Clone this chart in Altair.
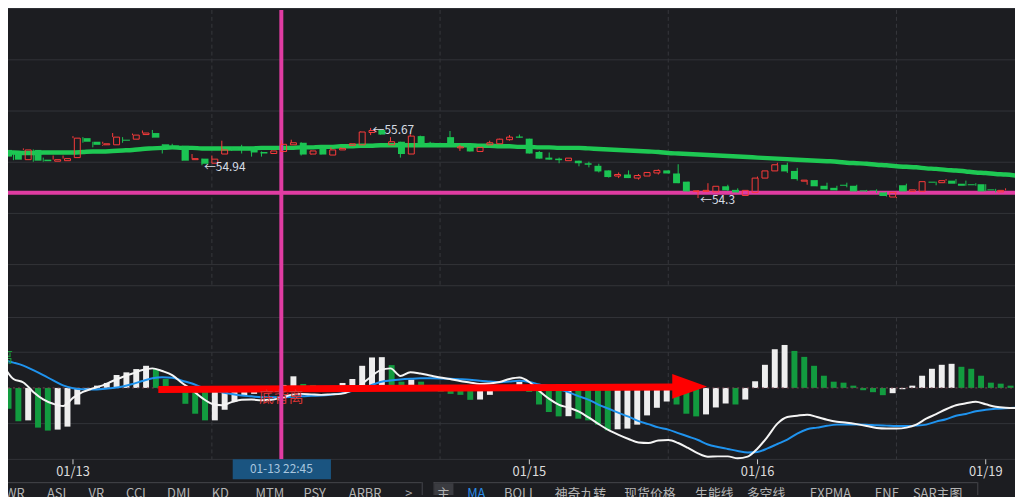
import altair as alt
import pandas as pd

# ------------------------------------------------------------------ data
opens = [55.24, 55.17, 55.05, 55.24, 55.05, 55.02, 55.03, 55.09, 55.47, 55.40,
         55.34, 55.34, 55.44, 55.45, 55.54, 55.57, 55.35, 55.33, 55.32, 55.05,
         55.07, 54.98, 55.16, 55.27, 55.27, 55.29, 55.20, 55.17, 55.21, 55.34,
         55.38, 55.16, 55.27, 55.14, 55.24, 55.33, 55.34, 55.58, 55.63, 55.34,
         55.40, 55.16, 55.51, 55.38, 55.35, 55.49, 55.28, 55.34, 55.21, 55.34,
         55.36, 55.44, 55.50, 55.46, 55.20, 55.09, 55.07, 55.03, 55.03, 54.98,
         54.93, 54.84, 54.73, 54.76, 54.69, 54.73, 54.79, 54.84, 54.78, 54.62,
         54.43, 54.43, 54.42, 54.53, 54.46, 54.35, 54.41, 54.69, 54.83, 54.95,
         54.83, 54.63, 54.65, 54.54, 54.50, 54.56, 54.54, 54.45, 54.45, 54.41,
         54.32, 54.55, 54.43, 54.43, 54.62, 54.60, 54.64, 54.58, 54.57, 54.57,
         54.47, 54.42, 54.44]
highs = [55.26, 55.18, 55.27, 55.25, 55.09, 55.13, 55.13, 55.51, 55.49, 55.40,
         55.40, 55.57, 55.49, 55.56, 55.62, 55.63, 55.35, 55.36, 55.32, 55.16,
         55.07, 55.13, 55.42, 55.29, 55.34, 55.29, 55.21, 55.23, 55.43, 55.44,
         55.39, 55.23, 55.27, 55.29, 55.29, 55.37, 55.60, 55.67, 55.64, 55.49,
         55.40, 55.55, 55.52, 55.40, 55.36, 55.61, 55.34, 55.34, 55.29, 55.42,
         55.46, 55.53, 55.54, 55.46, 55.22, 55.19, 55.09, 55.08, 55.03, 55.01,
         54.97, 54.84, 54.80, 54.84, 54.77, 54.80, 54.86, 54.84, 54.96, 54.62,
         54.45, 54.59, 54.53, 54.56, 54.49, 54.45, 54.72, 54.83, 54.99, 54.99,
         54.89, 54.65, 54.65, 54.60, 54.54, 54.60, 54.56, 54.46, 54.47, 54.42,
         54.42, 54.58, 54.47, 54.62, 54.62, 54.67, 54.67, 54.64, 54.59, 54.57,
         54.48, 54.49, 54.45]
lows = [55.09, 55.04, 55.05, 55.01, 55.01, 55.02, 55.03, 55.09, 55.38, 55.29,
        55.32, 55.34, 55.38, 55.45, 55.54, 55.48, 55.17, 55.29, 55.03, 55.05,
        54.94, 54.98, 55.16, 55.22, 55.17, 55.11, 55.11, 55.17, 55.21, 55.34,
        55.13, 55.15, 55.15, 55.14, 55.24, 55.33, 55.34, 55.53, 55.54, 55.34,
        55.09, 55.16, 55.34, 55.34, 55.33, 55.34, 55.22, 55.21, 55.21, 55.34,
        55.36, 55.42, 55.48, 55.17, 55.07, 55.05, 54.98, 55.03, 54.92, 54.90,
        54.80, 54.70, 54.69, 54.69, 54.66, 54.73, 54.76, 54.78, 54.59, 54.43,
        54.30, 54.42, 54.42, 54.44, 54.41, 54.35, 54.41, 54.69, 54.83, 54.79,
        54.64, 54.56, 54.53, 54.47, 54.45, 54.51, 54.43, 54.42, 54.40, 54.33,
        54.30, 54.43, 54.43, 54.43, 54.55, 54.59, 54.58, 54.54, 54.54, 54.43,
        54.41, 54.42, 54.43]
closes = [55.11, 55.05, 55.24, 55.03, 55.02, 55.05, 55.07, 55.47, 55.40, 55.34,
          55.36, 55.49, 55.42, 55.53, 55.57, 55.48, 55.29, 55.32, 55.03, 55.07,
          54.97, 55.06, 55.24, 55.25, 55.25, 55.19, 55.17, 55.22, 55.35, 55.38,
          55.15, 55.22, 55.15, 55.24, 55.27, 55.36, 55.59, 55.62, 55.54, 55.40,
          55.16, 55.51, 55.34, 55.34, 55.34, 55.34, 55.30, 55.21, 55.29, 55.38,
          55.45, 55.49, 55.48, 55.17, 55.07, 55.05, 55.04, 55.08, 54.98, 54.95,
          54.82, 54.71, 54.76, 54.69, 54.74, 54.80, 54.84, 54.78, 54.59, 54.43,
          54.44, 54.45, 54.53, 54.45, 54.41, 54.45, 54.69, 54.83, 54.95, 54.82,
          54.67, 54.65, 54.53, 54.47, 54.45, 54.54, 54.43, 54.43, 54.44, 54.34,
          54.41, 54.43, 54.46, 54.62, 54.60, 54.64, 54.58, 54.54, 54.55, 54.43,
          54.45, 54.45, 54.44]
ma_values = [55.19, 55.19, 55.18, 55.18, 55.19, 55.19, 55.19, 55.19, 55.20, 55.21,
             55.21, 55.22, 55.23, 55.24, 55.26, 55.27, 55.28, 55.29, 55.28, 55.28,
             55.27, 55.27, 55.27, 55.27, 55.27, 55.27, 55.28, 55.28, 55.28, 55.28,
             55.29, 55.29, 55.30, 55.30, 55.31, 55.31, 55.32, 55.32, 55.33, 55.33,
             55.33, 55.33, 55.33, 55.33, 55.33, 55.33, 55.33, 55.33, 55.32, 55.32,
             55.31, 55.31, 55.30, 55.30, 55.29, 55.29, 55.28, 55.28, 55.28, 55.27,
             55.26, 55.25, 55.24, 55.23, 55.22, 55.21, 55.20, 55.18, 55.17, 55.16,
             55.15, 55.14, 55.13, 55.12, 55.11, 55.10, 55.09, 55.08, 55.07, 55.06,
             55.05, 55.04, 55.03, 55.02, 55.01, 54.99, 54.98, 54.97, 54.95, 54.94,
             54.92, 54.91, 54.90, 54.88, 54.87, 54.85, 54.84, 54.82, 54.80, 54.79,
             54.77, 54.76, 54.74]
dif_values = [0.0223, 0.0090, 0.0055, -0.0040, -0.0115, -0.0160, -0.0183, -0.0100, -0.0040, -0.0005,
              0.0025, 0.0070, 0.0110, 0.0145, 0.0180, 0.0197, 0.0170, 0.0130, 0.0050, -0.0020,
              -0.0100, -0.0160, -0.0175, -0.0143, -0.0120, -0.0117, -0.0125, -0.0120, -0.0100, -0.0070,
              -0.0060, -0.0065, -0.0070, -0.0065, -0.0060, -0.0030, 0.0030, 0.0110, 0.0180, 0.0197,
              0.0120, 0.0157, 0.0145, 0.0125, 0.0105, 0.0090, 0.0070, 0.0055, 0.0040, 0.0045,
              0.0060, 0.0090, 0.0105, 0.0060, -0.0030, -0.0110, -0.0170, -0.0200, -0.0240, -0.0300,
              -0.0365, -0.0425, -0.0473, -0.0515, -0.0550, -0.0555, -0.0530, -0.0525, -0.0555, -0.0605,
              -0.0660, -0.0693, -0.0690, -0.0690, -0.0710, -0.0693, -0.0610, -0.0493, -0.0360, -0.0293,
              -0.0280, -0.0270, -0.0293, -0.0320, -0.0340, -0.0350, -0.0365, -0.0383, -0.0405, -0.0410,
              -0.0410, -0.0400, -0.0370, -0.0310, -0.0265, -0.0215, -0.0175, -0.0155, -0.0140, -0.0165,
              -0.0190, -0.0200, -0.0203]
dea_values = [0.0280, 0.0255, 0.0225, 0.0180, 0.0130, 0.0075, 0.0025, -0.0003, -0.0014, -0.0015,
              -0.0010, 0.0000, 0.0015, 0.0040, 0.0070, 0.0097, 0.0107, 0.0103, 0.0073, 0.0045,
              0.0007, -0.0020, -0.0043, -0.0062, -0.0077, -0.0085, -0.0093, -0.0093, -0.0093, -0.0090,
              -0.0085, -0.0080, -0.0077, -0.0068, -0.0055, -0.0033, -0.0005, 0.0025, 0.0060, 0.0075,
              0.0085, 0.0092, 0.0097, 0.0097, 0.0096, 0.0093, 0.0088, 0.0082, 0.0072, 0.0065,
              0.0058, 0.0065, 0.0072, 0.0060, 0.0035, 0.0015, -0.0015, -0.0045, -0.0085, -0.0120,
              -0.0170, -0.0210, -0.0252, -0.0290, -0.0335, -0.0365, -0.0398, -0.0420, -0.0455, -0.0490,
              -0.0525, -0.0570, -0.0595, -0.0615, -0.0635, -0.0650, -0.0645, -0.0610, -0.0565, -0.0520,
              -0.0460, -0.0417, -0.0400, -0.0382, -0.0370, -0.0368, -0.0368, -0.0370, -0.0377, -0.0380,
              -0.0383, -0.0383, -0.0380, -0.0370, -0.0340, -0.0315, -0.0280, -0.0263, -0.0235, -0.0220,
              -0.0210, -0.0205, -0.0200]
macd_hist = [-0.0210, -0.0337, -0.0327, -0.0400, -0.0430, -0.0420, -0.0390, -0.0167, -0.0010, 0.0023,
             0.0050, 0.0130, 0.0157, 0.0190, 0.0223, 0.0190, 0.0090, -0.0030, -0.0160, -0.0260,
             -0.0327, -0.0327, -0.0220, -0.0137, -0.0077, -0.0060, -0.0040, -0.0010, 0.0030, 0.0117,
             0.0040, 0.0030, 0.0010, 0.0020, 0.0050, 0.0090, 0.0223, 0.0307, 0.0310, 0.0230,
             0.0063, 0.0083, 0.0063, 0.0020, -0.0037, -0.0060, -0.0070, -0.0120, -0.0117, -0.0070,
             -0.0030, 0.0010, 0.0060, -0.0040, -0.0167, -0.0243, -0.0287, -0.0285, -0.0310, -0.0327,
             -0.0370, -0.0427, -0.0417, -0.0410, -0.0370, -0.0277, -0.0200, -0.0137, -0.0167, -0.0260,
             -0.0287, -0.0267, -0.0197, -0.0157, -0.0167, -0.0117, 0.0067, 0.0233, 0.0390, 0.0433,
             0.0373, 0.0313, 0.0223, 0.0123, 0.0063, 0.0053, 0.0023, -0.0023, -0.0043, -0.0073,
             -0.0053, -0.0013, 0.0023, 0.0123, 0.0193, 0.0233, 0.0243, 0.0213, 0.0193, 0.0123,
             0.0053, 0.0043, 0.0023]
# w = histogram rising (white bar), g = falling (green bar)
macd_trend = list("ggwggwwwww" "wwwwwggggg" "gwwwwwwwww" "gggwwwwwwg" "gwggggggww"
                  "wwwggggwgg" "ggwwwwwwgg" "gwwwgwwwww" "gggggggggg" "wwwwwwwggg" "ggg")

date_ticks = [7, 53, 76, 99]
date_labels = ["01/13", "01/15", "01/16", "01/19"]
day_grid = [21, 44, 67, 90]
price_grid = [58, 57, 56, 55, 54, 53]
macd_grid = [0.036, -0.036]

hl_index = [37, 20, 70]
hl_price = [55.67, 54.94, 54.30]
hl_text = ["←55.67", "←54.94", "←54.3"]

cross_index = 28
cross_price = 54.405
cross_time = "01-13 22:45"

arrow_from = [15.6, -0.0015]
arrow_to = [67.6, 0.0010]
arrow_head = [69.15, 0.0015]

left_tabs = ["WR", "ASI", "VR", "CCI", "DMI", "KD", "MTM", "PSY", "ARBR", ">"]
left_tab_x = [15, 57, 97, 137, 180, 222, 272, 317, 368, 412]
right_tabs = ["主", "MA", "BOLL", "神奇九转", "现货价格", "生能线", "多空线", "EXPMA", "ENE", "SAR主图"]
right_tab_x = [447, 480, 524, 585, 655, 720, 772, 837, 894, 945]

# ------------------------------------------------------------------ layout / style
M = 8                      # page margin: the chart starts at page (8, 8)
W, H = 1023 - M, 461 - M   # plot area (page x 8..1023, page y 8..461)
BG = "#1c1d21"
GRID = "#333439"
RED = "#fb3b3b"
GREEN = "#1bc453"
MA_GREEN = "#1ec853"
BAR_GREEN = "#129b3f"
BAR_WHITE = "#eeeeee"
BLUE = "#1f93ee"
PINK = "#e03ca2"
FONT = "Noto Sans CJK SC"


def py(v):
    """page pixel (reference coordinates) -> chart pixel"""
    return v - M


xs = alt.Scale(domain=[0.45, 101.95], nice=False, zero=False)
ps = alt.Scale(domain=[49.1957, 57.9748], nice=False, zero=False)
ms = alt.Scale(domain=[-0.072, 0.381], nice=False, zero=False)


def xq(f):
    return alt.X(f, type="quantitative", scale=xs, axis=None)


def yp(f):
    return alt.Y(f, type="quantitative", scale=ps, axis=None)


def ym(f):
    return alt.Y(f, type="quantitative", scale=ms, axis=None)


one = pd.DataFrame({"k": [0]})
n = len(opens)
df = pd.DataFrame({
    "idx": list(range(n)), "open": opens, "high": highs, "low": lows,
    "close": closes, "ma": ma_values, "dif": dif_values, "dea": dea_values,
    "hist": macd_hist, "trend": macd_trend,
})
base = alt.Chart(df)
layers = []

# ---- chrome / grid
for yv in [286, 318, 461]:
    layers.append(alt.Chart(one).mark_rule(color=GRID, strokeWidth=1).encode(
        x=alt.value(0), x2=alt.value(W), y=alt.value(py(yv))))
dg = pd.DataFrame({"d": day_grid})
layers.append(alt.Chart(dg).mark_rule(color="#37383d", strokeDash=[4, 3]).encode(
    x=xq("d"), y=alt.value(0), y2=alt.value(py(286))))
layers.append(alt.Chart(dg).mark_rule(color="#37383d", strokeDash=[4, 3]).encode(
    x=xq("d"), y=alt.value(py(318)), y2=alt.value(py(461))))
layers.append(alt.Chart(pd.DataFrame({"p": price_grid})).mark_rule(color=GRID).encode(
    y=yp("p"), x=alt.value(0), x2=alt.value(W)))
layers.append(alt.Chart(pd.DataFrame({"m": macd_grid})).mark_rule(color=GRID).encode(
    y=ym("m"), x=alt.value(0), x2=alt.value(W)))

# ---- MACD
layers.append(base.transform_filter("datum.trend == 'w'").mark_bar(size=6, color=BAR_WHITE).encode(
    x=xq("idx"), y=ym("hist"), y2=alt.Y2Datum(0)))
layers.append(base.transform_filter("datum.trend == 'g'").mark_bar(size=6, color=BAR_GREEN).encode(
    x=xq("idx"), y=ym("hist"), y2=alt.Y2Datum(0)))
layers.append(alt.Chart(pd.DataFrame({"z": [0.0]})).mark_rule(color="#7a4650", strokeDash=[2, 3]).encode(
    y=ym("z"), x=alt.value(0), x2=alt.value(W)))
layers.append(base.mark_line(color=BLUE, strokeWidth=2, interpolate="monotone").encode(
    x=xq("idx"), y=ym("dea")))
layers.append(base.mark_line(color="#f4f4f4", strokeWidth=2, interpolate="monotone").encode(
    x=xq("idx"), y=ym("dif")))

# divergence arrow + labels
arr = pd.DataFrame({"x0": [arrow_from[0]], "y0": [arrow_from[1]],
                    "x1": [arrow_to[0]], "y1": [arrow_to[1]],
                    "hx": [arrow_head[0]], "hy": [arrow_head[1]]})
layers.append(alt.Chart(arr).mark_rule(color="#ff0000", strokeWidth=7).encode(
    x=xq("x0"), x2="x1:Q", y=ym("y0"), y2="y1:Q"))
layers.append(alt.Chart(arr).mark_point(shape="M-1,-0.71L1,0L-1,0.71Z", size=1225, filled=True,
                                        color="#ff0000", opacity=1, strokeWidth=0).encode(
    x=xq("hx"), y=ym("hy")))
div = pd.DataFrame({"x": [28, 0.95], "y": [-0.009, 0.030], "t": ["底背离", "顶背离"],
                    "c": ["b", "t"]})
layers.append(alt.Chart(div).transform_filter("datum.c == 'b'").mark_text(
    font=FONT, fontSize=15, color="#d83434", align="center", baseline="middle").encode(
    x=xq("x"), y=ym("y"), text="t:N"))
layers.append(alt.Chart(div).transform_filter("datum.c == 't'").mark_text(
    font=FONT, fontSize=14, color="#1a9c3e", align="right", baseline="middle").encode(
    x=xq("x"), y=ym("y"), text="t:N"))

# ---- price panel
layers.append(base.mark_line(color=MA_GREEN, strokeWidth=4.5, interpolate="monotone").encode(
    x=xq("idx"), y=yp("ma")))

# crosshair
cr = pd.DataFrame({"ci": [cross_index], "cp": [cross_price], "t": [cross_time]})
layers.append(alt.Chart(cr).mark_rule(color=PINK, strokeWidth=4).encode(
    x=xq("ci"), y=alt.value(0), y2=alt.value(py(461))))
layers.append(alt.Chart(cr).mark_rule(color=PINK, strokeWidth=4).encode(
    y=yp("cp"), x=alt.value(0), x2=alt.value(W)))

up = "datum.close > datum.open"
dn = "datum.close <= datum.open"
layers.append(base.transform_filter(up).mark_rule(color=RED, strokeWidth=1).encode(
    x=xq("idx"), y=yp("high"), y2="close:Q"))
layers.append(base.transform_filter(up).mark_rule(color=RED, strokeWidth=1).encode(
    x=xq("idx"), y=yp("open"), y2="low:Q"))
layers.append(base.transform_filter(dn).mark_rule(color=GREEN, strokeWidth=1).encode(
    x=xq("idx"), y=yp("high"), y2="low:Q"))
layers.append(base.transform_filter(up).mark_bar(size=6, filled=False, color=RED, strokeWidth=1).encode(
    x=xq("idx"), y=yp("open"), y2="close:Q"))
layers.append(base.transform_filter(dn).mark_bar(size=7, color=GREEN).encode(
    x=xq("idx"), y=yp("open"), y2="close:Q"))

hl = pd.DataFrame({"i": hl_index, "p": hl_price, "t": hl_text})
layers.append(alt.Chart(hl).mark_text(font=FONT, fontSize=12, color="#d8dde6", align="left",
                                      baseline="middle", dx=2, dy=2).encode(
    x=xq("i"), y=yp("p"), text="t:N"))

# ---- time axis
dt = pd.DataFrame({"i": date_ticks, "t": date_labels})
layers.append(alt.Chart(dt).mark_rule(color="#d0d0d0").encode(
    x=xq("i"), y=alt.value(py(461)), y2=alt.value(py(466))))
layers.append(alt.Chart(dt).mark_text(font=FONT, fontSize=13, color="#dcdcdc",
                                      baseline="middle").encode(
    x=xq("i"), y=alt.value(py(474)), text="t:N"))
box = pd.DataFrame({"a": [cross_index - 4.9], "b": [cross_index + 5.0]})
layers.append(alt.Chart(box).mark_rect(color="#1a5480").encode(
    x=xq("a"), x2="b:Q", y=alt.value(py(461)), y2=alt.value(py(481))))
layers.append(alt.Chart(cr).mark_text(font=FONT, fontSize=12, color="#a9c6df",
                                      baseline="middle").encode(
    x=xq("ci"), y=alt.value(py(471)), text="t:N"))

# ---- bottom tab bar
for x0, x1 in [(0, 425), (437, 985)]:
    layers.append(alt.Chart(one).mark_rule(color="#46474c").encode(
        x=alt.value(max(py(x0), 0)), x2=alt.value(py(x1)), y=alt.value(py(484.5))))
for xv in [425.5, 437.5, 985.5]:
    layers.append(alt.Chart(one).mark_rule(color="#46474c").encode(
        x=alt.value(py(xv)), y=alt.value(py(484)), y2=alt.value(py(497))))
layers.append(alt.Chart(one).mark_rect(color="#3b3c41").encode(
    x=alt.value(py(438)), x2=alt.value(py(457)), y=alt.value(py(485)), y2=alt.value(py(497))))
lt = pd.DataFrame({"x": [py(v) for v in left_tab_x], "t": left_tabs})
layers.append(alt.Chart(lt).mark_text(font=FONT, fontSize=13, color="#b4b4b4",
                                      baseline="middle").encode(
    x=alt.X("x:Q", scale=None), y=alt.value(py(496)), text="t:N"))
rt = pd.DataFrame({"x": [py(v) for v in right_tab_x], "t": right_tabs,
                   "a": ["n", "y"] + ["n"] * 8})
layers.append(alt.Chart(rt).transform_filter("datum.a == 'n'").mark_text(
    font=FONT, fontSize=13, color="#b4b4b4", baseline="middle").encode(
    x=alt.X("x:Q", scale=None), y=alt.value(py(496)), text="t:N"))
layers.append(alt.Chart(rt).transform_filter("datum.a == 'y'").mark_text(
    font=FONT, fontSize=13, color="#2a8ce6", baseline="middle").encode(
    x=alt.X("x:Q", scale=None), y=alt.value(py(496)), text="t:N"))

chart = alt.layer(*layers).resolve_scale(x="independent", y="independent").properties(
    width=W, height=H,
    padding={"left": 0, "top": 0, "right": 0, "bottom": 36},
    autosize=alt.AutoSizeParams(type="none"),
    background=BG,
).configure_view(stroke=None)

chart.save("out.html", embed_options={"renderer": "svg", "actions": False})
